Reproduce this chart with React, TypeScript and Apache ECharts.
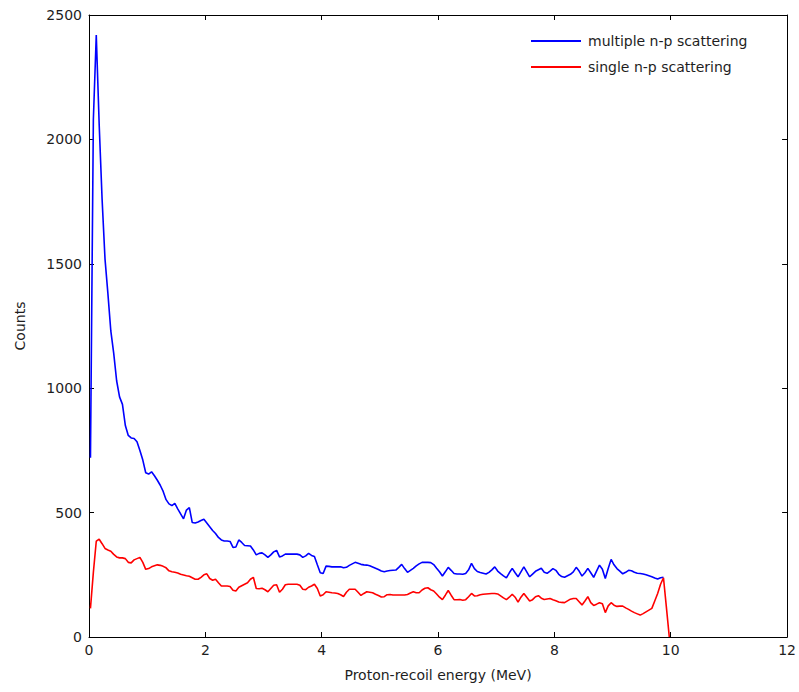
import React, { useEffect, useRef } from "react";
import * as echarts from "echarts";

// Histogram bins: 0.05 MeV wide, first bin centred at 0.025 MeV
const binWidth = 0.05;
const firstBinCenter = 0.025;

const multipleCounts = [
  720, 2080, 2420, 2060, 1760, 1520, 1380, 1230, 1140, 1030,
  965, 935, 850, 810, 800, 798, 785, 750, 711, 660,
  655, 664, 648, 630, 610, 585, 552, 535, 528, 537,
  515, 495, 475, 510, 520, 460, 458, 462, 468, 473,
  458, 443, 428, 416, 400, 390, 386, 386, 384, 360,
  362, 390, 380, 368, 367, 366, 350, 330, 336, 338,
  330, 320, 330, 342, 348, 322, 326, 333, 333, 333,
  333, 333, 330, 320, 326, 336, 328, 324, 290, 258,
  255, 285, 284, 282, 282, 282, 282, 278, 280, 288,
  294, 300, 296, 292, 290, 289, 286, 281, 276, 271,
  265, 262, 265, 267, 268, 269, 280, 292, 275, 260,
  268, 276, 286, 294, 300, 300, 300, 299, 291, 276,
  262, 245, 262, 280, 268, 255, 253, 253, 252, 255,
  270, 296, 275, 263, 259, 256, 253, 260, 270, 282,
  265, 255, 246, 238, 258, 276, 258, 242, 262, 282,
  262, 242, 253, 264, 270, 276, 260, 256, 265, 275,
  268, 252, 243, 240, 246, 252, 262, 280, 265, 245,
  258, 276, 258, 240, 265, 289, 272, 235, 275, 312,
  290, 275, 265, 254, 260, 268, 266, 260, 256, 255,
  253, 250, 246, 242, 237, 233, 238, 240,
];

const singleCounts = [
  115, 260, 385, 393, 375, 356, 350, 345, 332, 322,
  318, 318, 315, 300, 298, 310, 315, 320, 300, 272,
  275, 282, 286, 290, 288, 284, 278, 266, 262, 260,
  257, 252, 249, 246, 244, 238, 232, 232, 240, 250,
  254, 235, 228, 232, 218, 205, 205, 205, 203, 188,
  185, 200, 206, 212, 218, 232, 240, 195, 194, 196,
  190, 182, 195, 208, 210, 180, 192, 210, 212, 212,
  212, 212, 208, 192, 190, 200, 205, 212, 195, 165,
  170, 182, 180, 178, 177, 175, 170, 163, 180, 192,
  192, 192, 180, 167, 175, 182, 180, 178, 172, 167,
  161, 162, 170, 171, 169, 169, 169, 169, 169, 171,
  177, 182, 178, 178, 189, 196, 198, 190, 185, 173,
  160, 150, 168, 187, 168, 150, 150, 151, 148, 150,
  162, 175, 165, 166, 170, 172, 173, 174, 175, 175,
  173, 165, 157, 150, 160, 172, 160, 140, 160, 175,
  160, 145, 150, 162, 166, 156, 151, 153, 155, 150,
  146, 141, 139, 138, 145, 152, 155, 155, 142, 129,
  145, 162, 138, 127, 132, 138, 134, 98, 125, 138,
  128, 123, 124, 124, 117, 111, 104, 98, 93, 88,
  94, 101, 108, 115, 145, 175, 212, 238, 120, 0,
];

const seriesNames = ["multiple n-p scattering", "single n-p scattering"];
const seriesColors = ["#0000ff", "#ff0000"];
const xTicks = { min: 0, max: 12, interval: 2 };
const yTicks = { min: 0, max: 2500, interval: 500 };
const xAxisName = "Proton-recoil energy (MeV)";
const yAxisName = "Counts";

const toPairs = (vals: number[]) =>
  vals.map((v, i) => [+(firstBinCenter + i * binWidth).toFixed(3), v]);

const FONT = "DejaVu Sans";
const TXT = "#1e1e1e";
const FS = 14;

export default function App() {
  const ref = useRef<HTMLDivElement>(null);
  useEffect(() => {
    if (!ref.current) return;
    const chart = echarts.init(ref.current, null, { renderer: "svg" });
    const axisLine = { show: true, onZero: false, lineStyle: { color: "#000", width: 1 } };
    const tick = { show: true, inside: true, length: 5, lineStyle: { color: "#000", width: 1 } };
    chart.setOption({
      animation: false,
      backgroundColor: "#fff",
      grid: { left: 89, right: 7, top: 15, bottom: 55, containLabel: false },
      legend: {
        left: 526,
        top: 29,
        orient: "vertical",
        itemWidth: 50,
        itemHeight: 14,
        itemGap: 12,
        data: seriesNames.map((n) => ({ name: n, icon: "path://M0,6L50,6L50,8L0,8Z" })),
        textStyle: { fontFamily: FONT, fontSize: FS, color: TXT, padding: [0, 0, 0, 2] },
      },
      xAxis: [
        {
          type: "value",
          min: xTicks.min,
          max: xTicks.max,
          interval: xTicks.interval,
          position: "bottom",
          axisLine,
          axisTick: tick,
          splitLine: { show: false },
          axisLabel: { fontFamily: FONT, fontSize: FS, color: TXT, margin: 6 },
          name: xAxisName,
          nameLocation: "middle",
          nameGap: 31,
          nameTextStyle: { fontFamily: FONT, fontSize: FS, color: TXT },
        },
        {
          type: "value",
          min: xTicks.min,
          max: xTicks.max,
          interval: xTicks.interval,
          position: "top",
          axisLine,
          axisTick: tick,
          splitLine: { show: false },
          axisLabel: { show: false },
        },
      ],
      yAxis: [
        {
          type: "value",
          min: yTicks.min,
          max: yTicks.max,
          interval: yTicks.interval,
          position: "left",
          axisLine,
          axisTick: tick,
          splitLine: { show: false },
          axisLabel: {
            fontFamily: FONT,
            fontSize: FS,
            color: TXT,
            margin: 7,
            formatter: (v: number) => String(v),
          },
          name: yAxisName,
          nameLocation: "middle",
          nameGap: 62,
          nameTextStyle: { fontFamily: FONT, fontSize: FS, color: TXT },
        },
        {
          type: "value",
          min: yTicks.min,
          max: yTicks.max,
          interval: yTicks.interval,
          position: "right",
          axisLine,
          axisTick: tick,
          splitLine: { show: false },
          axisLabel: { show: false },
        },
      ],
      series: [
        {
          name: seriesNames[0],
          type: "line",
          data: toPairs(multipleCounts),
          symbol: "none",
          color: seriesColors[0],
          lineStyle: { color: seriesColors[0], width: 1.6 },
          z: 3,
        },
        {
          name: seriesNames[1],
          type: "line",
          data: toPairs(singleCounts),
          symbol: "none",
          color: seriesColors[1],
          lineStyle: { color: seriesColors[1], width: 1.6 },
          z: 4,
        },
      ],
    });
    return () => chart.dispose();
  }, []);
  return <div ref={ref} style={{ width: 799, height: 692, position: "absolute", left: 0, top: 0 }} />;
}
